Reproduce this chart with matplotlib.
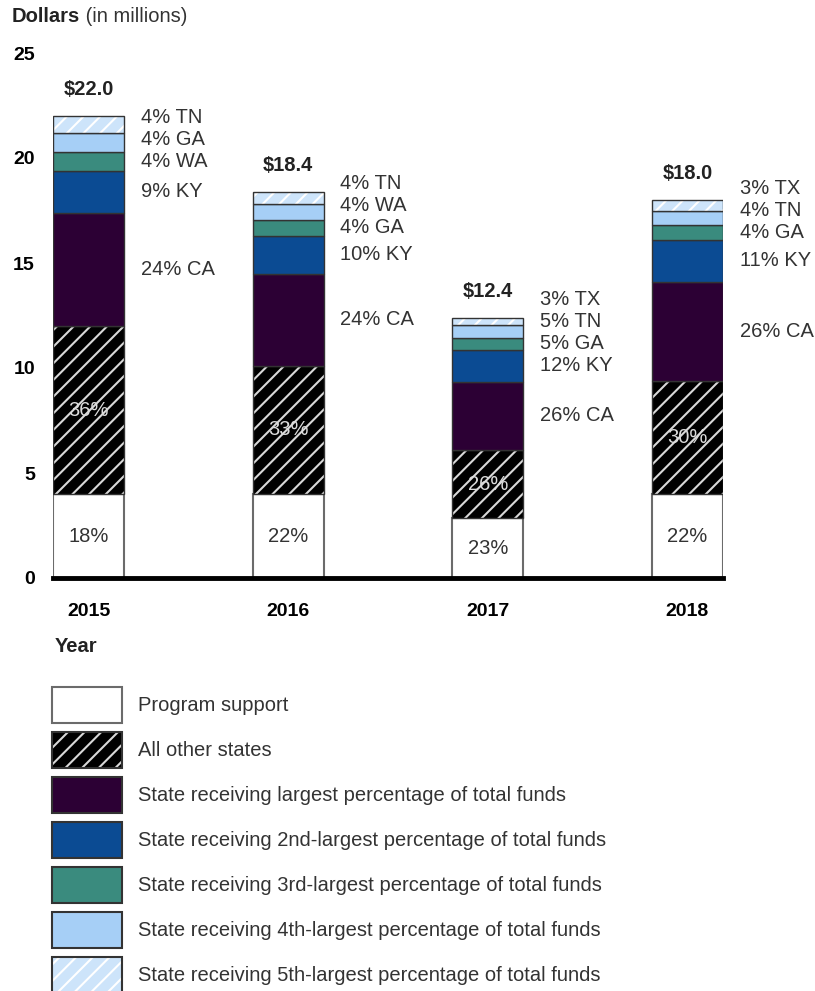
import matplotlib
matplotlib.use('Agg')
import matplotlib.pyplot as plt
from matplotlib.patches import Patch
import numpy as np

plt.rcParams['font.family'] = ['Liberation Sans', 'DejaVu Sans']
plt.rcParams['hatch.linewidth'] = 1.5

# data (millions of dollars), bottom segment first
years = ['2015', '2016', '2017', '2018']
program = [4.0, 4.0, 2.85, 4.0]
other = [8.0, 6.1, 3.25, 5.4]
largest = [5.4, 4.4, 3.25, 4.7]
second = [2.0, 1.8, 1.5, 2.0]
third = [0.9, 0.75, 0.6, 0.7]
fourth = [0.9, 0.75, 0.6, 0.7]
fifth = [0.8, 0.6, 0.35, 0.5]

program_pct = ['18%', '22%', '23%', '22%']
other_pct = ['36%', '33%', '26%', '30%']
largest_lbl = ['24% CA', '24% CA', '26% CA', '26% CA']
second_lbl = ['9% KY', '10% KY', '12% KY', '11% KY']
third_lbl = ['4% WA', '4% GA', '5% GA', '4% GA']
fourth_lbl = ['4% GA', '4% WA', '5% TN', '4% TN']
fifth_lbl = ['4% TN', '4% TN', '3% TX', '3% TX']

legend_labels = ['Program support',
                 'All other states',
                 'State receiving largest percentage of total funds',
                 'State receiving 2nd-largest percentage of total funds',
                 'State receiving 3rd-largest percentage of total funds',
                 'State receiving 4th-largest percentage of total funds',
                 'State receiving 5th-largest percentage of total funds']

# (face, edge, hatch colour or None, edge width)
styles = [('white', '#6b6b6b', None, 1.5),
          ('black', '#333333', '#d8d8d8', 1.0),
          ('#2c0034', '#333333', None, 1.0),
          ('#0b4b93', '#333333', None, 1.0),
          ('#3a8b7e', '#333333', None, 1.0),
          ('#a6cff6', '#333333', None, 1.0),
          ('#cde4fa', '#333333', 'white', 1.0)]

segments = [program, other, largest, second, third, fourth, fifth]
side_labels = [largest_lbl, second_lbl, third_lbl, fourth_lbl, fifth_lbl]

TXT = '#333333'
FS = 14.5

fig = plt.figure(figsize=(8.15, 9.91), dpi=100)
ax = fig.add_axes([53/815, 1 - 578/991, 670/815, 525/991])

x = np.arange(len(years))
w = 0.356
bottom = np.zeros(len(years))
centers = []
for vals, (fc, ec, hc, lw) in zip(segments, styles):
    vals = np.array(vals)
    if hc is not None:
        ax.bar(x, vals, w, bottom=bottom, color=fc, edgecolor=hc, hatch='//', linewidth=0)
        ax.bar(x, vals, w, bottom=bottom, fill=False, edgecolor=ec, linewidth=lw)
    else:
        ax.bar(x, vals, w, bottom=bottom, color=fc, edgecolor=ec, linewidth=lw)
    centers.append(bottom + vals / 2)
    bottom = bottom + vals
totals = bottom

ax.set_xlim(-w/2, len(years) - 1 + w/2)
ax.set_ylim(0, 25)
for s in ['top', 'right', 'left']:
    ax.spines[s].set_visible(False)
ax.spines['bottom'].set_linewidth(3.5)
ax.spines['bottom'].set_zorder(5)

yt = [0, 5, 10, 15, 20, 25]
ax.set_yticks(yt, labels=[str(t) for t in yt], fontweight='bold', fontsize=14)
ax.set_xticks(x, labels=years, fontweight='bold', fontsize=14)
ax.tick_params(axis='y', length=0, pad=13)
ax.tick_params(axis='x', length=0, pad=18)

# labels inside the two bottom segments
for i in range(len(years)):
    ax.text(x[i], centers[0][i], program_pct[i], ha='center', va='center',
            fontsize=FS, color=TXT)
    ax.text(x[i], centers[1][i], other_pct[i], ha='center', va='center',
            fontsize=FS, color='#dcdcdc')
    ax.annotate('\\$%.1f' % totals[i], (x[i], totals[i]), xytext=(0, 19),
                textcoords='offset points', ha='center', va='center',
                fontsize=FS, fontweight='bold', color='#222222')

# state labels to the right, pushed apart so they do not overlap
gap = 1.05
for i in range(len(years)):
    prev = None
    for k, lbls in enumerate(side_labels):
        y = centers[k + 2][i]
        if prev is not None and y < prev + gap:
            y = prev + gap
        prev = y
        ax.annotate(lbls[i], (x[i] + w/2, y), xytext=(12, 0),
                    textcoords='offset points', ha='left', va='center',
                    fontsize=FS, color=TXT, annotation_clip=False)

t0 = fig.text(12/815, 1 - 17/991, 'Dollars', fontsize=FS, fontweight='bold',
              va='center', ha='left', color='#222222')
ax.annotate(' (in millions)', xy=(1, 0), xycoords=t0, va='bottom', ha='left',
            fontsize=FS, color=TXT, annotation_clip=False)

fig.text(55/815, 1 - 647/991, 'Year', fontsize=FS, fontweight='bold',
         va='center', ha='left', color='#222222')

# legend
handles = []
for fc, ec, hc, lw in styles:
    if hc is not None:
        handles.append((Patch(facecolor=fc, edgecolor=hc, hatch='//', linewidth=0),
                        Patch(fill=False, edgecolor=ec, linewidth=1.5)))
    else:
        handles.append(Patch(facecolor=fc, edgecolor=ec, linewidth=1.5))
leg = fig.legend(handles, legend_labels, loc='upper left',
                 bbox_to_anchor=(52/815, 1 - 687/991), frameon=False,
                 fontsize=FS, handlelength=3.5, handleheight=2.37,
                 labelspacing=0.45, handletextpad=0.75, borderpad=0,
                 borderaxespad=0)
for t in leg.get_texts():
    t.set_color(TXT)

fig.savefig('out.png', dpi=100)
